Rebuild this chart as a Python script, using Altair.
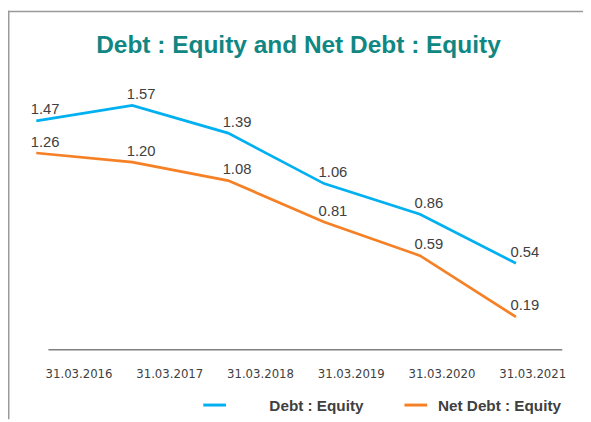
import altair as alt
import pandas as pd

title_text = "Debt : Equity and Net Debt : Equity"
dates = ["31.03.2016", "31.03.2017", "31.03.2018", "31.03.2019", "31.03.2020", "31.03.2021"]
series = ["Debt : Equity", "Net Debt : Equity"]
debt_equity = [1.47, 1.57, 1.39, 1.06, 0.86, 0.54]
net_debt_equity = [1.26, 1.20, 1.08, 0.81, 0.59, 0.19]
colors = ["#00B0F0", "#F58025"]

rows = []
for s, vals in zip(series, [debt_equity, net_debt_equity]):
    for d, v in zip(dates, vals):
        rows.append({"date": d, "series": s, "value": v})
df = pd.DataFrame(rows)

W, H = 583, 414
y_scale = alt.Scale(domain=[0, 2], range=[339.8, 339.8 - 2 * 155.3])
color = alt.Color("series:N", scale=alt.Scale(domain=series, range=colors), legend=None)


def date_x(rng):
    return alt.X("date:O", scale=alt.Scale(type="point", domain=dates, range=rng, padding=0),
                 axis=None, sort=dates)


def series_x(rng):
    return alt.X("series:N", scale=alt.Scale(type="point", domain=series, range=rng, padding=0),
                 axis=None, sort=series)


lines = alt.Chart(df).mark_line(strokeWidth=2.75).encode(
    x=date_x([28.7, 515]),
    y=alt.Y("value:Q", scale=y_scale, axis=None),
    color=color,
    detail="series:N",
)

value_labels = alt.Chart(df).mark_text(
    font="Liberation Sans", fontSize=15, color="#404040", dx=9, dy=-6.5, baseline="alphabetic"
).encode(
    x=date_x([28.7, 515]),
    y=alt.Y("value:Q", scale=y_scale, axis=None),
    text=alt.Text("value:Q", format=".2f"),
)

date_labels = alt.Chart(pd.DataFrame({"date": dates})).mark_text(
    font="DejaVu Sans Condensed", fontSize=13.2, color="#404040", baseline="alphabetic"
).encode(
    x=date_x([72, 532]),
    y=alt.value(372),
    text="date:N",
)

one = pd.DataFrame({"a": [0]})

axis_line = alt.Chart(one).mark_rule(color="#7f7f7f", strokeWidth=1.6).encode(
    x=alt.value(41), x2=alt.value(562), y=alt.value(343.7)
)

border_top = alt.Chart(one).mark_rule(color="#9a9a9a", strokeWidth=1.5).encode(
    x=alt.value(0), x2=alt.value(W), y=alt.value(0.75)
)
border_left = alt.Chart(one).mark_rule(color="#9a9a9a", strokeWidth=1.5).encode(
    x=alt.value(0.75), y=alt.value(0), y2=alt.value(H)
)

legend_df = pd.DataFrame({"series": series})
legend_symbols = alt.Chart(legend_df).mark_point(
    shape="stroke", size=529, strokeWidth=3, filled=False, opacity=1
).encode(
    x=series_x([209.5, 413.5]),
    y=alt.value(399.7),
    color=color,
)
legend_text = alt.Chart(legend_df).mark_text(
    font="Liberation Sans", fontWeight="bold", fontSize=15.5, color="#404040",
    align="left", baseline="alphabetic"
).encode(
    x=series_x([265, 436]),
    y=alt.value(406),
    text="series:N",
)

title = alt.Chart(pd.DataFrame({"t": [title_text]})).mark_text(
    font="Liberation Sans", fontWeight="bold", fontSize=24.8, color="#108782",
    align="center", baseline="alphabetic"
).encode(
    x=alt.value(294.5), y=alt.value(42.7), text="t:N"
)

chart = alt.layer(
    border_top, border_left, title, axis_line, lines, value_labels, date_labels,
    legend_symbols, legend_text
).resolve_scale(x="independent").properties(
    width=W, height=H, autosize=alt.AutoSizeParams(type="none"), padding=0
).configure_view(strokeWidth=0)

chart.save("out.html", embed_options={"renderer": "svg", "actions": False})
